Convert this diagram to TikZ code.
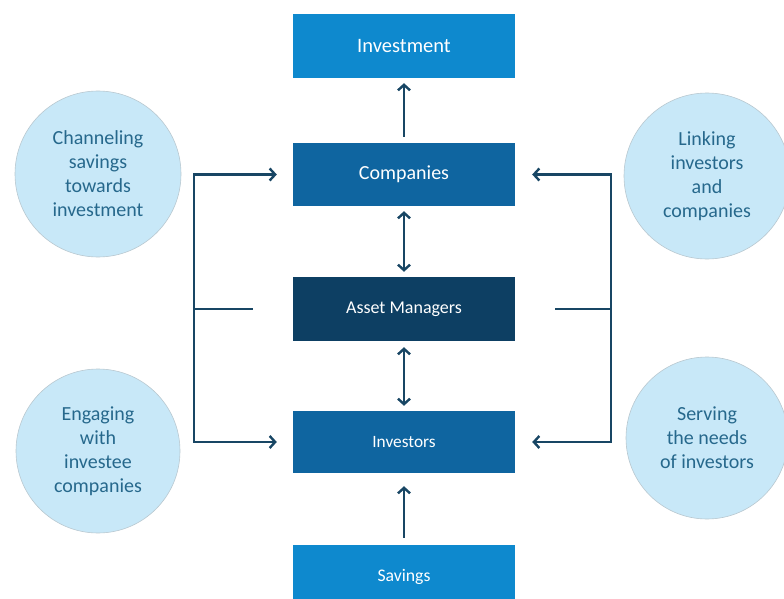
\documentclass[tikz,border=0pt]{standalone}
\usepackage{fontspec}
\setmainfont{Carlito}
\usetikzlibrary{arrows.meta}

\definecolor{lightbox}{RGB}{14,137,206}
\definecolor{midbox}{RGB}{15,101,160}
\definecolor{darkbox}{RGB}{13,63,99}
\definecolor{linkcol}{RGB}{24,70,100}
\definecolor{bubblefill}{RGB}{200,232,248}
\definecolor{bubbleline}{RGB}{185,200,208}
\definecolor{bubbletext}{RGB}{38,104,140}

\begin{document}
\begin{tikzpicture}[x=1pt,y=-1pt,
  box/.style={minimum width=222pt,minimum height=63pt,inner sep=0pt,text=white},
  bubble/.style={circle,fill=bubblefill,draw=bubbleline,line width=0.6pt,minimum size=166pt,
    inner sep=0pt,text=bubbletext,align=center,font=\fontsize{20}{24}\selectfont},
  link/.style={draw=linkcol,line width=2.4pt,-{Straight Barb[length=5.5pt,width=12pt]}},
  twoway/.style={link,{Straight Barb[length=5.5pt,width=12pt]}-{Straight Barb[length=5.5pt,width=12pt]}},
  bar/.style={draw=linkcol,line width=2.4pt}]
  \useasboundingbox (0,0) rectangle (784,599);

  % the chain of boxes
  \node[box,fill=lightbox,minimum height=64pt,font=\fontsize{20.5}{24}\selectfont] (investment) at (404,46) {Investment};
  \node[box,fill=midbox,font=\fontsize{20}{24}\selectfont] (companies) at (404,174.5) {Companies};
  \node[box,fill=darkbox,minimum height=64pt,font=\fontsize{18}{22}\selectfont] (managers) at (404,309) {Asset Managers};
  \node[box,fill=midbox,minimum height=62pt,font=\fontsize{17.3}{21}\selectfont] (investors) at (404,442) {Investors};
  \node[box,fill=lightbox,font=\fontsize{17.7}{21}\selectfont] (savings) at (404,576.5) {Savings};

  \draw[link,shorten <=6pt,shorten >=5pt] (companies) -- (investment);
  \draw[twoway,shorten <=5pt,shorten >=5pt] (companies) -- (managers);
  \draw[twoway,shorten <=6pt,shorten >=5pt] (managers) -- (investors);
  \draw[link,shorten <=7pt,shorten >=13pt] (savings) -- (investors);

  % the four roles
  \node[bubble] (channel) at (98,174) {Channeling\\savings\\towards\\investment};
  \node[bubble,minimum size=164pt] (engaging) at (98,451) {Engaging\\with\\investee\\companies};
  \node[bubble] (linking) at (707,176) {Linking\\investors\\and\\companies};
  \node[bubble,minimum size=162pt] (serving) at (707,438) {Serving\\the needs\\of investors};

  % brackets
  \coordinate (lbar) at (194,309);
  \coordinate (rbar) at (611,309);
  \draw[link,shorten >=16pt] (investors.west -| lbar) |- (companies.west);
  \draw[link,shorten >=16pt] (companies.west -| lbar) |- (investors.west);
  \draw[bar,shorten >=40pt] (lbar) -- (managers.west);
  \draw[link,shorten >=17pt] (investors.east -| rbar) |- (companies.east);
  \draw[link,shorten >=17pt] (companies.east -| rbar) |- (investors.east);
  \draw[bar,shorten >=40pt] (rbar) -- (managers.east);
\end{tikzpicture}
\end{document}
